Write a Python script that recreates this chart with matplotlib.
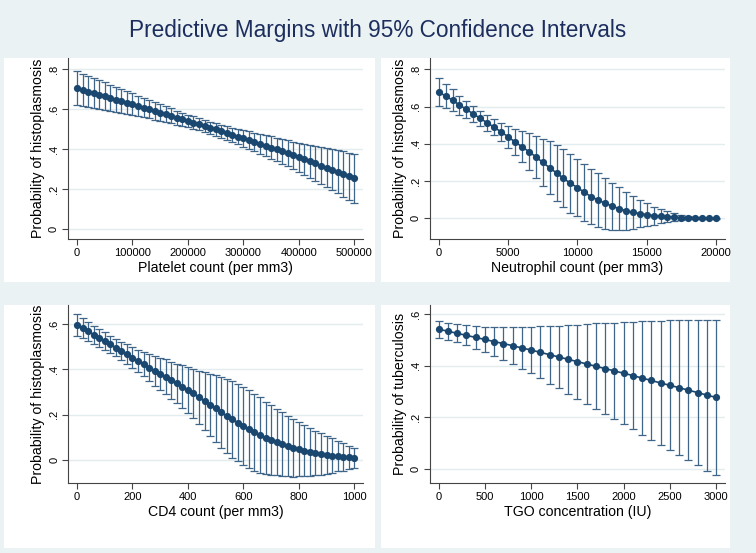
import matplotlib
matplotlib.use("Agg")
import matplotlib.pyplot as plt
from matplotlib.patches import Rectangle
from matplotlib.ticker import FuncFormatter
import numpy as np

plt.rcParams['font.family'] = ['Liberation Sans', 'DejaVu Sans']

# --- data (margin and half-width of the 95% CI) ---
platelet_x = list(range(0, 500001, 10000))
platelet_margin = [.705, .697, .689, .681, .673, .665, .657, .649, .641, .633,
                   .625, .617, .609, .601, .593, .584, .576, .568, .559, .551,
                   .542, .534, .525, .517, .508, .500, .491, .482, .473, .464,
                   .455, .446, .437, .428, .418, .409, .400, .390, .380, .370,
                   .360, .350, .340, .330, .319, .309, .298, .288, .277, .266,
                   .255]
platelet_hw = [.085, .082, .079, .076, .073, .070, .067, .064, .061, .058,
               .055, .052, .049, .046, .044, .041, .039, .037, .035, .033,
               .032, .031, .030, .030, .030, .031, .032, .034, .036, .038,
               .041, .044, .047, .050, .053, .056, .059, .062, .065, .068,
               .071, .077, .083, .088, .093, .098, .103, .108, .113, .118,
               .1225]

neutro_x = list(range(0, 20001, 500))
neutro_margin = [.677, .657, .634, .608, .585, .560, .537, .512, .489, .464,
                 .438, .410, .385, .358, .331, .300, .272, .243, .215, .188,
                 .165, .140, .116, .098, .081, .066, .052, .041, .032, .025,
                 .020, .014, .011, .009, .006, .004, .003, .002, .002, .001,
                 .001]
neutro_hw = [.075, .065, .059, .051, .046, .042, .040, .041, .044, .050,
             .058, .069, .082, .098, .112, .128, .142, .148, .156, .159,
             .155, .153, .149, .144, .136, .126, .115, .103, .089, .074,
             .061, .049, .038, .028, .021, .013, .009, .006, .004, .003,
             .002]

cd4_x = list(range(0, 1001, 20))
cd4_margin = [.595, .581, .568, .553, .538, .525, .510, .496, .481, .467,
              .452, .437, .423, .408, .394, .380, .367, .352, .339, .324,
              .309, .295, .277, .260, .245, .229, .211, .195, .180, .166,
              .151, .138, .123, .111, .099, .089, .081, .070, .063, .055,
              .050, .042, .037, .032, .028, .023, .020, .018, .015, .013,
              .010]
cd4_hw = [.048, .044, .041, .039, .038, .0375, .037, .038, .040, .044,
          .046, .050, .053, .058, .065, .070, .077, .082, .087, .094,
          .100, .108, .117, .127, .137, .147, .156, .163, .168, .171,
          .172, .172, .171, .167, .159, .154, .145, .141, .133, .127,
          .117, .113, .105, .098, .091, .084, .077, .067, .060, .051,
          .043]

tgo_x = list(range(0, 3001, 100))
tgo_margin = [.542, .534, .526, .518, .510, .502, .494, .486, .478, .469,
              .461, .452, .443, .434, .425, .416, .407, .398, .389, .380,
              .371, .362, .352, .343, .333, .324, .315, .305, .296, .286,
              .277]
tgo_hw = [.033, .034, .035, .039, .043, .049, .055, .063, .071, .082,
          .091, .101, .112, .122, .133, .144, .155, .167, .177, .188,
          .198, .209, .221, .231, .242, .253, .262, .273, .282, .293,
          .302]

panels = [
    dict(x=platelet_x, m=platelet_margin, hw=platelet_hw,
         xlabel="Platelet count (per mm3)", ylabel="Probability of histoplasmosis",
         xticks=[0, 100000, 200000, 300000, 400000, 500000],
         yticks=[0, .2, .4, .6, .8], xlim=(-16228, 515687), ylim=(-.0485, .8565),
         ax_px=(68, 58, 363, 239), bg_px=(4, 58, 375, 282)),
    dict(x=neutro_x, m=neutro_margin, hw=neutro_hw,
         xlabel="Neutrophil count (per mm3)", ylabel="Probability of histoplasmosis",
         xticks=[0, 5000, 10000, 15000, 20000],
         yticks=[0, .2, .4, .6, .8], xlim=(-649, 20627), ylim=(-.111, .8607),
         ax_px=(429.7, 58, 724.7, 239), bg_px=(381, 58, 730, 282)),
    dict(x=cd4_x, m=cd4_margin, hw=cd4_hw,
         xlabel="CD4 count (per mm3)", ylabel="Probability of histoplasmosis",
         xticks=[0, 200, 400, 600, 800, 1000],
         yticks=[0, .2, .4, .6], xlim=(-31.4, 1030.3), ylim=(-.1012, .6835),
         ax_px=(68.3, 305, 362.7, 483.3), bg_px=(4, 305, 375, 548)),
    dict(x=tgo_x, m=tgo_margin, hw=tgo_hw,
         xlabel="TGO concentration (IU)", ylabel="Probability of tuberculosis",
         xticks=[0, 500, 1000, 1500, 2000, 2500, 3000],
         yticks=[0, .2, .4, .6], xlim=(-97.4, 3094), ylim=(-.0567, .636),
         ax_px=(429.7, 305, 724.7, 483.3), bg_px=(381, 305, 730, 548)),
]

W, H = 756, 553
bg = '#eaf2f3'
navy = '#1a476f'

fig = plt.figure(figsize=(W / 100, H / 100), dpi=100, facecolor=bg)


def yfmt(v, pos):
    if abs(v) < 1e-9:
        return "0"
    return ("%.1f" % v).lstrip("0")


for p in panels:
    bx0, by0, bx1, by1 = p['bg_px']
    fig.add_artist(Rectangle((bx0 / W, 1 - by1 / H), (bx1 - bx0) / W, (by1 - by0) / H,
                             transform=fig.transFigure, facecolor='white',
                             edgecolor='none', zorder=-10))
    x0, y0, x1, y1 = p['ax_px']
    ax = fig.add_axes([x0 / W, 1 - y1 / H, (x1 - x0) / W, (y1 - y0) / H])
    ax.set_facecolor('white')

    ax.errorbar(p['x'], p['m'], yerr=p['hw'], fmt='none', ecolor='#3f6589',
                elinewidth=0.9, capsize=2.6, capthick=0.9, zorder=2)
    ax.plot(p['x'], p['m'], color=navy, lw=1.2, marker='o', markersize=5.2,
            markeredgewidth=0, zorder=3)

    ax.set_xlim(p['xlim'])
    ax.set_ylim(p['ylim'])
    ax.set_xticks(p['xticks'])
    ax.set_yticks(p['yticks'])
    ax.yaxis.set_major_formatter(FuncFormatter(yfmt))
    ax.grid(axis='y', color='#e3edef', lw=1.0, zorder=0)
    ax.set_axisbelow(True)

    for s in ['top', 'right']:
        ax.spines[s].set_visible(False)
    for s in ['left', 'bottom']:
        ax.spines[s].set_color('#444444')
        ax.spines[s].set_linewidth(0.8)

    ax.tick_params(axis='both', direction='out', length=4, width=0.8,
                   color='#444444', labelsize=8, labelcolor='black', pad=2.5)
    for lbl in ax.get_yticklabels():
        lbl.set_rotation(90)
        lbl.set_va('center')

    ax.set_xlabel(p['xlabel'], fontsize=10.2, color='black', labelpad=2)
    ax.set_ylabel(p['ylabel'], fontsize=10.2, color='black', labelpad=3)

fig.text(0.5, 1 - 31 / H, "Predictive Margins with 95% Confidence Intervals",
         ha='center', va='center', fontsize=16.3, color='#1c2d5e')

fig.savefig("out.png", dpi=100, facecolor=bg)
